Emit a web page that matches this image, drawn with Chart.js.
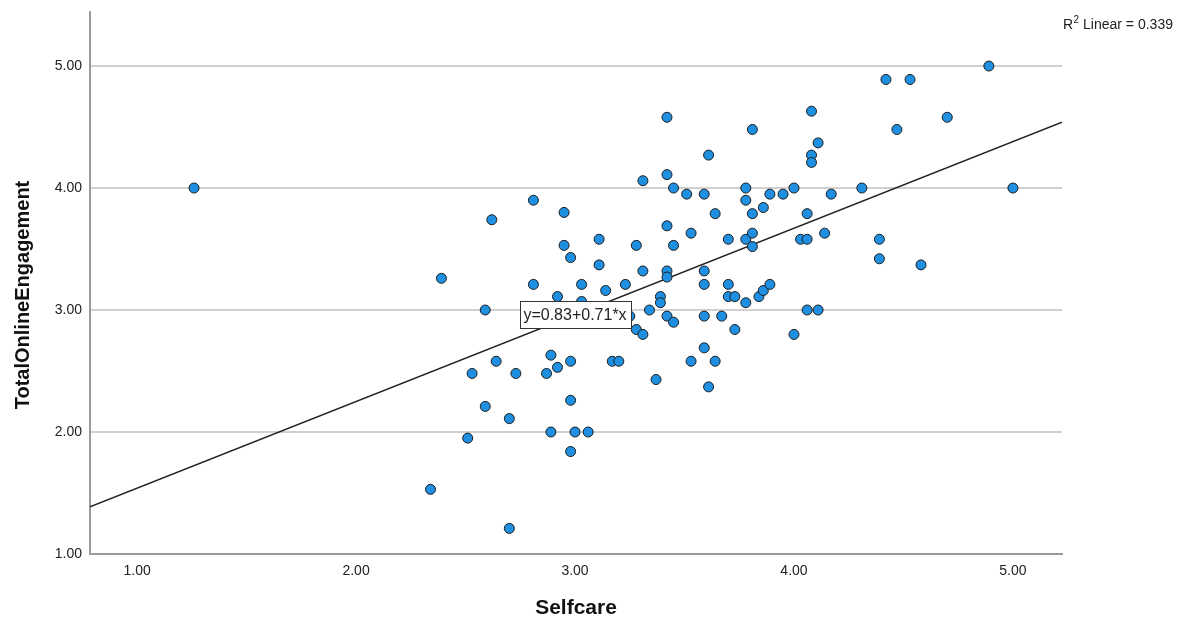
<!DOCTYPE html>
<html>
<head>
<meta charset="utf-8">
<script src="https://cdn.jsdelivr.net/npm/chart.js@4/dist/chart.umd.min.js"></script>
<style>
html,body{margin:0;padding:0;background:#fff;}
#wrap{width:1187px;height:624px;}
</style>
</head>
<body>
<div id="wrap"><canvas id="c" width="1187" height="624"></canvas></div>
<script>
// Selfcare (x) values
const selfcare = [1.26,2.39,2.34,2.51,2.53,2.59,2.59,2.62,2.64,2.70,2.70,2.73,2.81,2.81,2.87,2.89,2.89,2.92,2.92,2.95,
  2.95,2.98,2.98,2.98,2.98,3.00,3.03,3.03,3.06,3.11,3.11,3.14,3.17,3.20,3.23,3.28,3.28,3.31,3.31,3.31,
  3.34,3.37,3.39,3.39,3.42,3.42,3.42,3.42,3.42,3.42,3.45,3.45,3.45,3.51,3.53,3.53,3.59,3.59,3.59,3.59,
  3.59,3.61,3.61,3.64,3.64,3.67,3.70,3.70,3.70,3.73,3.73,3.78,3.78,3.78,3.78,3.81,3.81,3.81,3.81,3.84,
  3.86,3.86,3.89,3.89,3.95,4.00,4.00,4.03,4.06,4.06,4.06,4.08,4.08,4.08,4.11,4.11,4.14,4.17,4.31,4.39,
  4.39,4.42,4.47,4.53,4.58,4.70,4.89,5.00,3.25];
// TotalOnlineEngagement (y) values
const engagement = [4.00,3.26,1.53,1.95,2.48,2.21,3.00,3.74,2.58,2.11,1.21,2.48,3.21,3.90,2.48,2.00,2.63,3.11,2.53,3.80,
  3.53,3.43,2.58,2.26,1.84,2.00,3.21,3.07,2.00,3.58,3.37,3.16,2.58,2.58,3.21,3.53,2.84,4.06,3.32,2.80,
  3.00,2.43,3.11,3.06,4.58,4.11,3.69,3.32,3.27,2.95,4.00,3.53,2.90,3.95,3.63,2.58,3.95,3.32,3.21,2.95,
  2.69,4.27,2.37,3.79,2.58,2.95,3.58,3.21,3.11,3.11,2.84,4.00,3.90,3.58,3.06,4.48,3.79,3.63,3.52,3.11,
  3.84,3.16,3.95,3.21,3.95,4.00,2.80,3.58,3.79,3.58,3.00,4.63,4.27,4.21,4.37,3.00,3.63,3.95,4.00,3.58,
  3.42,4.89,4.48,4.89,3.37,4.58,5.00,4.00,2.95];
const xTicks = [1, 2, 3, 4, 5];
const yTicks = [1, 2, 3, 4, 5];
const xRange = [0.785, 5.224];
const yRange = [1, 5.443];
const fitIntercept = [0.83];
const fitSlope = [0.71];
const fitLabelAt = [3.0];
const rSquared = [0.339];
const xTitle = 'Selfcare';
const yTitle = 'TotalOnlineEngagement';

const FONT = "'Liberation Sans', Arial, sans-serif";
const fit = x => fitIntercept[0] + fitSlope[0] * x;

const points = selfcare.map((x, i) => ({x: x, y: engagement[i]}));
const fitLine = xRange.map(x => ({x: x, y: fit(x)}));

const annot = {
  id: 'annot',
  afterDatasetsDraw(chart) {
    const ctx = chart.ctx;
    const xs = chart.scales.x, ys = chart.scales.y;
    const cx = xs.getPixelForValue(fitLabelAt[0]);
    const cy = ys.getPixelForValue(fit(fitLabelAt[0]));
    const txt = 'y=' + fitIntercept[0].toFixed(2) + '+' + fitSlope[0].toFixed(2) + '*x';
    ctx.save();
    ctx.font = '16px ' + FONT;
    const w = Math.round(ctx.measureText(txt).width + 8);
    const h = 27;
    const bx = Math.round(cx - w / 2) + 0.5, by = Math.round(cy - h / 2) + 0.5;
    ctx.fillStyle = '#fff';
    ctx.fillRect(bx, by, w, h);
    ctx.strokeStyle = '#333';
    ctx.lineWidth = 1;
    ctx.strokeRect(bx, by, w, h);
    ctx.fillStyle = '#222';
    ctx.textAlign = 'center';
    ctx.textBaseline = 'middle';
    ctx.fillText(txt, cx, cy + 1);
    ctx.restore();
  },
  afterDraw(chart) {
    const ctx = chart.ctx;
    const area = chart.chartArea;
    ctx.save();
    // R squared note with superscript
    ctx.fillStyle = '#222';
    ctx.textAlign = 'left';
    ctx.textBaseline = 'alphabetic';
    let x0 = area.right + 1;
    const base = 29;
    ctx.font = '14px ' + FONT;
    ctx.fillText('R', x0, base);
    x0 += ctx.measureText('R').width + 0.5;
    ctx.font = '10px ' + FONT;
    ctx.fillText('2', x0, base - 6);
    x0 += ctx.measureText('2').width;
    ctx.font = '14px ' + FONT;
    ctx.fillText(' Linear = ' + rSquared[0].toFixed(3), x0, base);
    // y axis title
    ctx.font = 'bold 20px ' + FONT;
    ctx.fillStyle = '#111';
    ctx.textBaseline = 'middle';
    ctx.translate(23, (area.top + area.bottom) / 2 + 12);
    ctx.rotate(-Math.PI / 2);
    ctx.textAlign = 'center';
    ctx.fillText(yTitle, 0, 0);
    ctx.restore();
  }
};

new Chart(document.getElementById('c'), {
  type: 'scatter',
  data: {
    datasets: [
      {
        type: 'line',
        data: fitLine,
        borderColor: '#222',
        borderWidth: 1.5,
        pointRadius: 0,
        fill: false,
        order: 2
      },
      {
        data: points,
        backgroundColor: '#1e8fe1',
        borderColor: '#1c1c1c',
        borderWidth: 1,
        pointRadius: 5,
        pointHoverRadius: 5,
        order: 1
      }
    ]
  },
  options: {
    responsive: false,
    animation: false,
    events: [],
    layout: {padding: {left: 0, right: 125, top: 12, bottom: 0}},
    plugins: {legend: {display: false}, tooltip: {enabled: false}},
    scales: {
      x: {
        type: 'linear',
        min: xRange[0],
        max: xRange[1],
        afterBuildTicks: s => { s.ticks = xTicks.map(v => ({value: v})); },
        afterFit: s => { s.height = 70; s.paddingLeft = 0; s.paddingRight = 0; },
        grid: {display: false, drawTicks: false},
        border: {display: true, color: '#9a9a9a', width: 2},
        ticks: {
          padding: 9,
          color: '#222',
          font: {family: FONT, size: 14},
          maxRotation: 0,
          callback: v => Number(v).toFixed(2)
        },
        title: {
          display: true,
          text: xTitle,
          color: '#111',
          font: {family: FONT, size: 21, weight: 'bold'},
          padding: {top: 3, bottom: 3}
        }
      },
      y: {
        type: 'linear',
        min: yRange[0],
        max: yRange[1],
        afterBuildTicks: s => { s.ticks = yTicks.map(v => ({value: v})); },
        afterFit: s => { s.width = 90; s.paddingTop = 0; s.paddingBottom = 0; },
        grid: {display: true, drawTicks: false, color: '#d0d0d0', lineWidth: 2},
        border: {display: true, color: '#9a9a9a', width: 2},
        ticks: {
          padding: 8,
          color: '#222',
          font: {family: FONT, size: 14},
          callback: v => Number(v).toFixed(2)
        },
        title: {display: false}
      }
    }
  },
  plugins: [annot]
});
</script>
</body>
</html>
